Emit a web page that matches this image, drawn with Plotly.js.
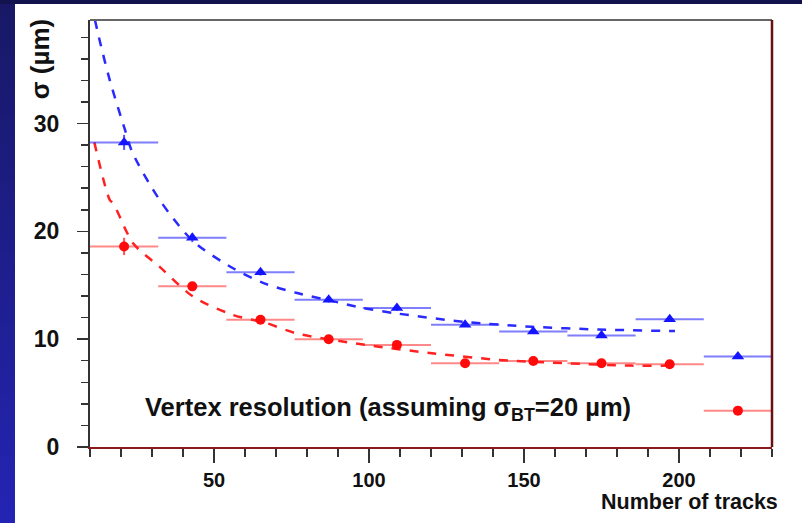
<!DOCTYPE html>
<html>
<head>
<meta charset="utf-8">
<script src="https://cdn.plot.ly/plotly-3.0.1.min.js"></script>
<style>
html,body{margin:0;padding:0;width:802px;height:523px;overflow:hidden;}
body{background:#12124e;position:relative;}
#band{position:absolute;left:0;top:4px;width:15px;height:519px;background:linear-gradient(#181866,#2424b4);}
#chart{position:absolute;left:15px;top:4px;width:787px;height:519px;background:#fff;}
</style>
</head>
<body>
<div id="band"></div>
<div id="chart"></div>
<script>
// bin centers (number of tracks), half bin width 11
const tracks = [21, 43, 65, 87, 109, 131, 153, 175, 197, 219];
const binHalfWidth = [11, 11, 11, 11, 11, 11, 11, 11, 11, 11];
// blue triangles
const sigmaBlue = [28.25, 19.4, 16.2, 13.65, 12.88, 11.33, 10.71, 10.34, 11.85, 8.39];
const errBlue = [0.7, 0.4, 0.3, 0.25, 0.25, 0.2, 0.2, 0.2, 0.2, 0.2];
// red circles
const sigmaRed = [18.6, 14.9, 11.8, 10.0, 9.47, 7.77, 7.98, 7.77, 7.68, 3.37];
const errRed = [0.8, 0.4, 0.3, 0.25, 0.25, 0.2, 0.2, 0.2, 0.2, 0.2];
// dashed fit curves
const fitBlueN = [11.6, 13.2, 16.4, 21.3, 23.7, 32.5, 43.2, 56, 66, 76.5, 87.2, 98, 108.6, 131, 152.5, 174, 198.7];
const fitBlueS = [39.6, 37.6, 34.0, 29.4, 27.3, 22.9, 19.1, 16.6, 15.2, 14.3, 13.6, 12.9, 12.4, 11.6, 11.15, 10.9, 10.75];
const fitRedN = [11.4, 16.4, 17.5, 23.9, 32.5, 43.2, 56, 66.8, 76.5, 98.9, 120.3, 141.8, 163, 184.4, 198];
const fitRedS = [28.25, 22.9, 22.6, 18.9, 16.7, 13.96, 12.26, 11.5, 10.55, 9.47, 8.7, 8.08, 7.77, 7.55, 7.55];
const xTicks = [50, 100, 150, 200];
const yTicks = [0, 10, 20, 30];

const FONT = "Liberation Sans, Arial, sans-serif";

const traces = [
  {x: fitBlueN, y: fitBlueS, mode: 'lines', line: {color: '#2a2aff', width: 2.5, dash: 'dash', shape: 'spline', smoothing: 0.8}, hoverinfo: 'skip'},
  {x: fitRedN, y: fitRedS, mode: 'lines', line: {color: '#ff2020', width: 2.5, dash: 'dash', shape: 'spline', smoothing: 0.8}, hoverinfo: 'skip'},
  {x: tracks, y: sigmaBlue, mode: 'markers', marker: {symbol: 'triangle-up', size: 11, color: '#1414ff'},
   error_x: {type: 'data', array: binHalfWidth, width: 0, thickness: 2, color: 'rgba(40,40,255,0.6)'},
   error_y: {type: 'data', array: errBlue, width: 0, thickness: 2, color: 'rgba(40,40,255,0.8)'}},
  {x: tracks, y: sigmaRed, mode: 'markers', marker: {symbol: 'circle', size: 10, color: '#ff0a0a'},
   error_x: {type: 'data', array: binHalfWidth, width: 0, thickness: 2, color: 'rgba(255,40,40,0.55)'},
   error_y: {type: 'data', array: errRed, width: 0, thickness: 2, color: 'rgba(255,40,40,0.8)'}}
];

const layout = {
  width: 787, height: 519,
  margin: {l: 75, r: 30, t: 16, b: 76},
  paper_bgcolor: '#ffffff', plot_bgcolor: '#ffffff',
  showlegend: false,
  xaxis: {
    range: [10, 230], tickvals: xTicks, ticktext: xTicks.map(String),
    ticks: 'outside', ticklen: 14, tickwidth: 1.5, tickcolor: '#333',
    minor: {dtick: 10, tick0: 0, ticks: 'outside', ticklen: 8, tickwidth: 1.5, tickcolor: '#333'},
    showline: true, linecolor: '#8b1a1a', linewidth: 2,
    showgrid: false, zeroline: false,
    tickfont: {family: FONT, size: 20, color: '#111', weight: 'bold'},
    ticklabelstandoff: 0
  },
  yaxis: {
    range: [0, 39.6], tickvals: yTicks, ticktext: yTicks.map(String),
    ticks: 'outside', ticklen: 11, tickwidth: 1.5, tickcolor: '#333',
    minor: {dtick: 2, tick0: 0, ticks: 'outside', ticklen: 7, tickwidth: 1.5, tickcolor: '#333'},
    showline: true, linecolor: '#333', linewidth: 2,
    showgrid: false, zeroline: false,
    tickfont: {family: FONT, size: 23, color: '#111', weight: 'bold'},
    ticklabelstandoff: 13
  },
  shapes: [
    {type: 'line', xref: 'paper', yref: 'paper', x0: 0, x1: 1, y0: 1, y1: 1, line: {color: '#666', width: 2}},
    {type: 'line', xref: 'paper', yref: 'paper', x0: 1, x1: 1, y0: 0, y1: 1, line: {color: '#6b1010', width: 2.5}}
  ],
  annotations: [
    {xref: 'paper', yref: 'paper', x: -0.073, y: 1.007, xanchor: 'center', yanchor: 'top', textangle: -90,
     text: '<b>σ (µm)</b>', showarrow: false, font: {family: FONT, size: 26, color: '#111'}},
    {xref: 'paper', yref: 'paper', x: 1.012, y: -0.128, xanchor: 'right', yanchor: 'middle',
     text: '<b>Number of tracks</b>', showarrow: false, font: {family: FONT, size: 21.5, color: '#111'}},
    {xref: 'x', yref: 'y', x: 27.1, y: 3.52, xanchor: 'left', yanchor: 'middle',
     text: '<b>Vertex resolution (assuming σ<sub>BT</sub>=20 µm)</b>', showarrow: false,
     font: {family: FONT, size: 25.5, color: '#111'}}
  ]
};

Plotly.newPlot('chart', traces, layout, {displayModeBar: false, staticPlot: true});
</script>
</body>
</html>
